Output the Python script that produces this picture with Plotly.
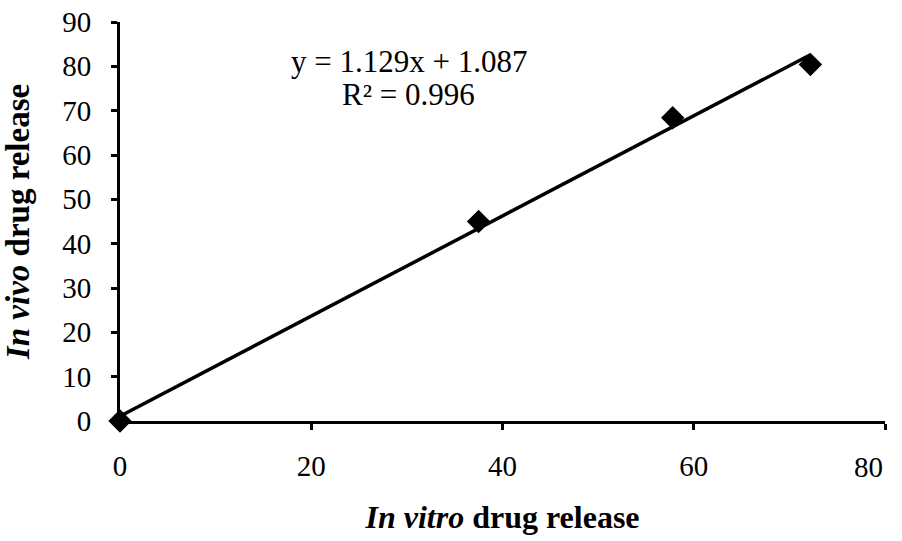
import plotly.graph_objects as go

in_vitro = [0, 37.5, 57.8, 72.2]
in_vivo = [0, 45.0, 68.4, 80.4]
slope = 1.129
intercept = 1.087
r2 = 0.996
x_ticks = [0, 20, 40, 60, 80]
y_ticks = [0, 10, 20, 30, 40, 50, 60, 70, 80, 90]

fit_x = [min(in_vitro), max(in_vitro)]
fit_y = [slope * v + intercept for v in fit_x]

FONT = "Liberation Serif, Times New Roman, serif"

fig = go.Figure()
fig.add_trace(go.Scatter(x=fit_x, y=fit_y, mode="lines",
                         line=dict(color="black", width=3.5),
                         showlegend=False, cliponaxis=False, hoverinfo="skip"))
fig.add_trace(go.Scatter(x=in_vitro, y=in_vivo, mode="markers",
                         marker=dict(symbol="diamond", size=18, color="black"),
                         showlegend=False, cliponaxis=False))

fig.add_annotation(x=30.2, y=81.0, xref="x", yref="y",
                   text=f"y = {slope}x + {intercept}",
                   showarrow=False, xanchor="center", yanchor="middle",
                   font=dict(family=FONT, size=31, color="black"))
fig.add_annotation(x=30.2, y=73.6, xref="x", yref="y",
                   text=f"R² = {r2}",
                   showarrow=False, xanchor="center", yanchor="middle",
                   font=dict(family=FONT, size=31, color="black"))

# last x tick label is pulled inward so it stays inside the picture
x_text = [str(v) for v in x_ticks[:-1]] + [""]
fig.add_annotation(x=x_ticks[-1], y=0, xref="x", yref="paper",
                   text=str(x_ticks[-1]), showarrow=False,
                   xanchor="center", yanchor="middle", xshift=-17, yshift=-46,
                   font=dict(family=FONT, size=29, color="black"))

fig.update_layout(
    width=902, height=541,
    margin=dict(l=120, r=17, t=22, b=120),
    paper_bgcolor="white", plot_bgcolor="white",
    font=dict(family=FONT, color="black", size=29),
)
fig.update_xaxes(range=[0, 80], tickvals=x_ticks, ticktext=x_text,
                 showgrid=False, zeroline=False, automargin=False,
                 ticklabeloverflow="allow",
                 showline=True, linecolor="black", linewidth=3,
                 ticks="outside", ticklen=6, tickwidth=3, tickcolor="black",
                 ticklabelstandoff=11,
                 tickfont=dict(family=FONT, size=29, color="black"),
                 title=dict(text="<b><i>In vitro</i> drug release</b>",
                            font=dict(family=FONT, size=32, color="black"), standoff=25))
fig.update_yaxes(range=[0, 90], tickvals=y_ticks, showgrid=False, zeroline=False,
                 automargin=False,
                 ticklabeloverflow="allow",
                 showline=True, linecolor="black", linewidth=3,
                 ticks="outside", ticklen=6, tickwidth=3, tickcolor="black",
                 ticklabelstandoff=14,
                 tickfont=dict(family=FONT, size=29, color="black"),
                 title=dict(text="<b><i>In vivo</i> drug release</b>",
                            font=dict(family=FONT, size=33, color="black"), standoff=30))

fig.write_html("out.html", config={"displayModeBar": False},
               post_script="document.body.style.margin='0';")
